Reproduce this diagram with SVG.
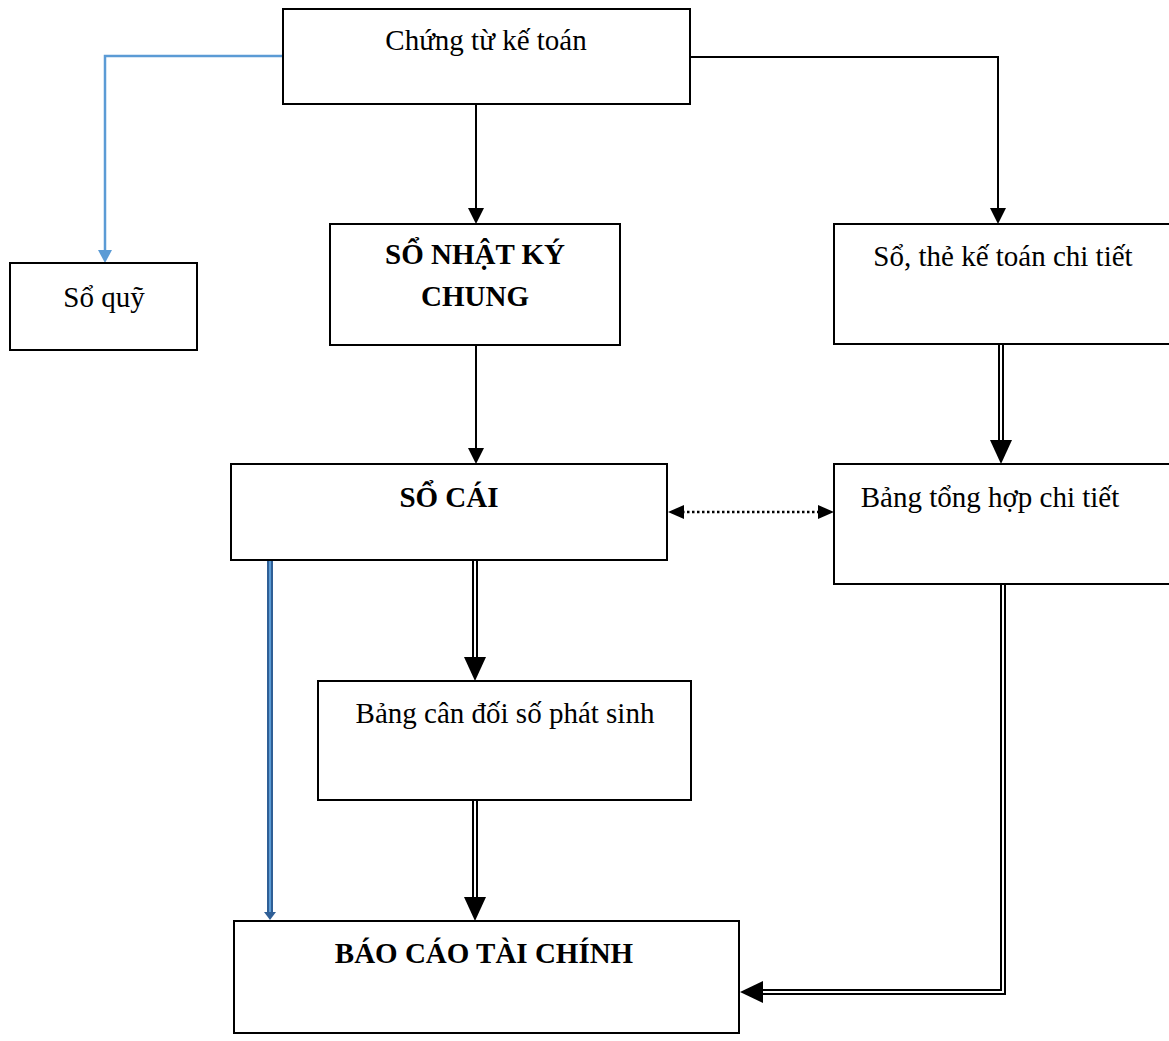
<svg xmlns="http://www.w3.org/2000/svg" width="1169" height="1041" viewBox="0 0 1169 1041">
<style>
.box{fill:#fff;stroke:#000;stroke-width:2}
.t{font-family:"Liberation Serif","Times New Roman",serif;font-size:29px;fill:#000;text-anchor:middle}
.b{font-weight:bold}
.ln{fill:none;stroke:#000;stroke-width:2}
.dbo{fill:none;stroke:#000;stroke-width:6}
.dbi{fill:none;stroke:#fff;stroke-width:2}
</style>
<rect width="1169" height="1041" fill="#fff"/>
<g id="connectors">
<polyline points="283,56 105,56 105,252" fill="none" stroke="#5b9bd5" stroke-width="2.5"/>
<polygon points="98,250 112,250 105,263" fill="#5b9bd5"/>
<line x1="476" y1="104" x2="476" y2="210" class="ln"/>
<polygon points="468,208 484,208 476,224" fill="#000"/>
<polyline points="690,57 998,57 998,210" class="ln"/>
<polygon points="990,208 1006,208 998,224" fill="#000"/>
<line x1="476" y1="345" x2="476" y2="450" class="ln"/>
<polygon points="468,448 484,448 476,464" fill="#000"/>
<line x1="1001" y1="344" x2="1001" y2="446" class="dbo"/>
<line x1="1001" y1="344" x2="1001" y2="446" class="dbi"/>
<polygon points="990,440 1012,440 1001,464" fill="#000"/>
<line x1="682" y1="512" x2="820" y2="512" stroke="#000" stroke-width="2.5" stroke-dasharray="2.5,2.5"/>
<polygon points="668,512 684,505 684,519" fill="#000"/>
<polygon points="834,512 818,505 818,519" fill="#000"/>
<line x1="475" y1="560" x2="475" y2="662" class="dbo"/>
<line x1="475" y1="560" x2="475" y2="662" class="dbi"/>
<polygon points="464,657 486,657 475,681" fill="#000"/>
<line x1="475" y1="800" x2="475" y2="902" class="dbo"/>
<line x1="475" y1="800" x2="475" y2="902" class="dbi"/>
<polygon points="464,897 486,897 475,921" fill="#000"/>
<line x1="270" y1="560" x2="270" y2="913" stroke="#2f5f96" stroke-width="6"/>
<line x1="270" y1="560" x2="270" y2="913" stroke="#5b9bd5" stroke-width="2"/>
<polygon points="264,912 276,912 270,920" fill="#2f5f96"/>
<polyline points="1003,584 1003,992 760,992" class="dbo"/>
<polyline points="1003,584 1003,992 760,992" class="dbi"/>
<polygon points="740,992 763,981 763,1003" fill="#000"/>
</g>
<g id="n1"><rect x="283" y="9" width="407" height="95" class="box"/><text x="486" y="50" class="t">Chứng từ kế toán</text></g>
<g id="n2"><rect x="10" y="263" width="187" height="87" class="box"/><text x="104" y="307" class="t">Sổ quỹ</text></g>
<g id="n3"><rect x="330" y="224" width="290" height="121" class="box"/><text x="475" y="264" class="t b">SỔ NHẬT KÝ</text><text x="475" y="306" class="t b">CHUNG</text></g>
<g id="n4"><rect x="834" y="224" width="340" height="120" class="box"/><text x="1003" y="266" class="t">Sổ, thẻ kế toán chi tiết</text></g>
<g id="n5"><rect x="231" y="464" width="436" height="96" class="box"/><text x="449" y="507" class="t b">SỔ CÁI</text></g>
<g id="n6"><rect x="834" y="464" width="340" height="120" class="box"/><text x="990" y="507" class="t">Bảng tổng hợp chi tiết</text></g>
<g id="n7"><rect x="318" y="681" width="373" height="119" class="box"/><text x="505" y="723" class="t">Bảng cân đối số phát sinh</text></g>
<g id="n8"><rect x="234" y="921" width="505" height="112" class="box"/><text x="484" y="963" class="t b">BÁO CÁO TÀI CHÍNH</text></g>
</svg>
